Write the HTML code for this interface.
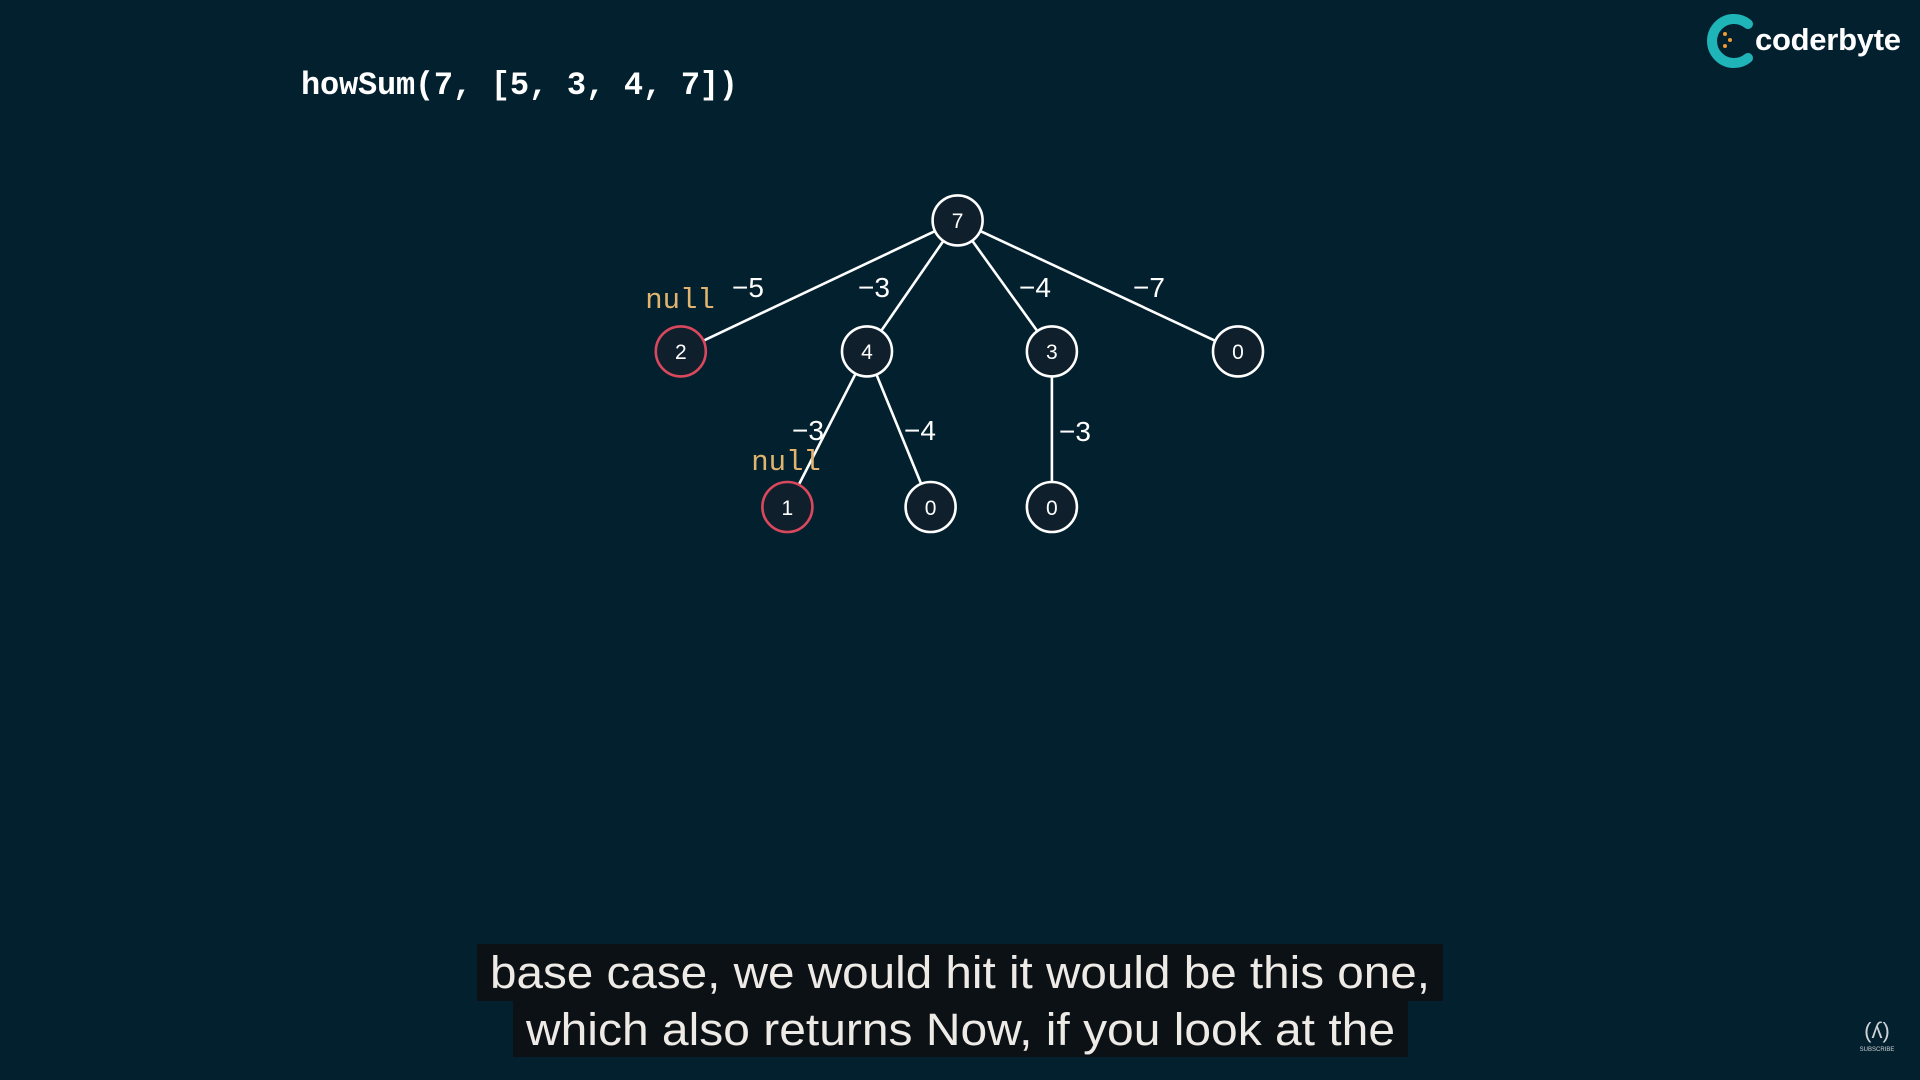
<!DOCTYPE html>
<html><head><meta charset="utf-8"><style>
html,body{margin:0;padding:0;background:#03202f;width:1920px;height:1080px;overflow:hidden}
svg{display:block}
</style></head><body>
<svg width="1920" height="1080" viewBox="0 0 1920 1080" xmlns="http://www.w3.org/2000/svg">
<rect width="1920" height="1080" fill="#03202f"/>
<text x="301" y="94" font-family="Liberation Mono, monospace" font-weight="bold" font-size="32" fill="#ffffff" textLength="437">howSum(7, [5, 3, 4, 7])</text>
<!-- logo -->
<g>
<path d="M1748 24 A22 22 0 1 0 1748 58" fill="none" stroke="#1fb5b8" stroke-width="10" stroke-linecap="round"/>
<circle cx="1725" cy="34" r="2" fill="#f29b2e"/><circle cx="1730" cy="40" r="2" fill="#f29b2e"/><circle cx="1725" cy="46" r="2" fill="#f29b2e"/>
<text x="1755" y="50" font-family="Liberation Sans, sans-serif" font-weight="bold" font-size="31" fill="#ffffff" textLength="146">coderbyte</text>
</g>
<!-- edges -->
<g stroke="#ffffff" stroke-width="2.6" fill="none">
<line x1="957.6" y1="220.4" x2="680.8" y2="351.4"/>
<line x1="957.6" y1="220.4" x2="867" y2="351.4"/>
<line x1="957.6" y1="220.4" x2="1051.9" y2="351.4"/>
<line x1="957.6" y1="220.4" x2="1238" y2="351.4"/>
<line x1="867" y1="351.4" x2="787.4" y2="507"/>
<line x1="867" y1="351.4" x2="930.6" y2="507"/>
<line x1="1051.9" y1="351.4" x2="1051.9" y2="507"/>
</g>
<!-- nodes -->
<g stroke-width="2.6" fill="#0f1f2c">
<circle cx="957.6" cy="220.4" r="25" stroke="#fff"/>
<circle cx="680.8" cy="351.4" r="25" stroke="#d9485c"/>
<circle cx="867" cy="351.4" r="25" stroke="#fff"/>
<circle cx="1051.9" cy="351.4" r="25" stroke="#fff"/>
<circle cx="1238" cy="351.4" r="25" stroke="#fff"/>
<circle cx="787.4" cy="507" r="25" stroke="#d9485c"/>
<circle cx="930.6" cy="507" r="25" stroke="#fff"/>
<circle cx="1051.9" cy="507" r="25" stroke="#fff"/>
</g>
<g font-family="Liberation Sans, sans-serif" font-size="21" fill="#fff" text-anchor="middle">
<text x="957.6" y="228">7</text>
<text x="680.8" y="359">2</text>
<text x="867" y="359">4</text>
<text x="1051.9" y="359">3</text>
<text x="1238" y="359">0</text>
<text x="787.4" y="515">1</text>
<text x="930.6" y="515">0</text>
<text x="1051.9" y="515">0</text>
</g>
<g font-family="Liberation Sans, sans-serif" font-size="28" fill="#fff" text-anchor="middle">
<text x="748" y="297">−5</text>
<text x="874" y="297">−3</text>
<text x="1035" y="297">−4</text>
<text x="1149" y="297">−7</text>
<text x="808" y="440">−3</text>
<text x="920" y="440">−4</text>
<text x="1075" y="441">−3</text>
</g>
<g font-family="Liberation Mono, monospace" font-size="29" fill="#e0b46e" text-anchor="middle">
<text x="680" y="308">null</text>
<text x="786" y="470">null</text>
</g>
<!-- captions -->
<rect x="477" y="944" width="966" height="57" fill="#0b1115"/>
<rect x="513" y="1000" width="895" height="57" fill="#0b1115"/>
<g font-family="Liberation Sans, sans-serif" font-size="45" fill="#eeeae6">
<text x="490" y="988" textLength="940" lengthAdjust="spacingAndGlyphs">base case, we would hit it would be this one,</text>
<text x="526" y="1045" textLength="869" lengthAdjust="spacingAndGlyphs">which also returns Now, if you look at the</text>
</g>
<!-- fcc icon -->
<text x="1877" y="1038" font-family="Liberation Sans, sans-serif" font-size="22" fill="#cfd3d6" text-anchor="middle">(ʎ)</text>
<text x="1877" y="1051" font-family="Liberation Sans, sans-serif" font-size="6" fill="#cfd3d6" text-anchor="middle">SUBSCRIBE</text>
</svg>
</body></html>
